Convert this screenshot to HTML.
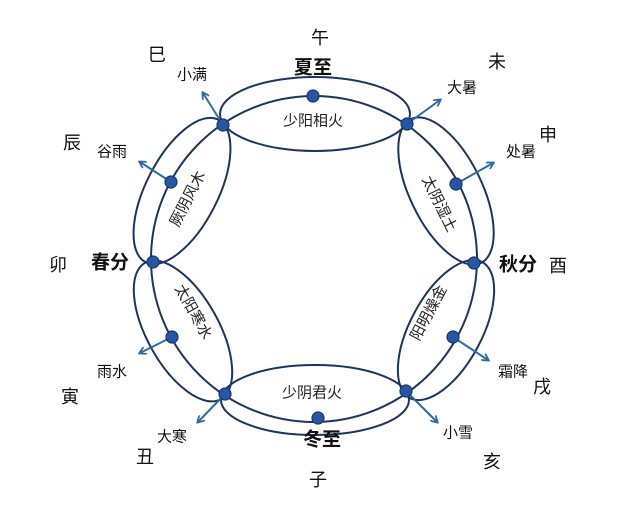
<!DOCTYPE html>
<html><head><meta charset="utf-8"><style>
html,body{margin:0;padding:0;background:#fff;}
svg{display:block;}
text{font-family:"Liberation Sans","Noto Sans CJK SC",sans-serif;fill:#111;text-anchor:middle;dominant-baseline:central;}
.b{font-size:18px;}
.t{font-size:15px;}
.k{font-size:19px;font-weight:bold;}
.e{font-size:15px;fill:#222;}
</style></head><body>
<svg width="640" height="522" viewBox="0 0 640 522" xmlns="http://www.w3.org/2000/svg">
<defs>
<marker id="ar" markerWidth="8" markerHeight="8" refX="6" refY="4" orient="auto" markerUnits="userSpaceOnUse">
<path d="M0,0 L7,4 L0,8" fill="none" stroke="#2d6aa8" stroke-width="1.8"/>
</marker>
</defs>
<g fill="none" stroke="#1c355f" stroke-width="2">
<circle cx="314" cy="259" r="163"/>
<ellipse cx="315" cy="114" rx="95" ry="37"/>
<ellipse cx="315" cy="400" rx="94" ry="35"/>
<ellipse cx="0" cy="0" rx="80" ry="36" transform="translate(182,191) rotate(-63)"/>
<ellipse cx="0" cy="0" rx="80" ry="36" transform="translate(446,191) rotate(64)"/>
<ellipse cx="0" cy="0" rx="78" ry="36" transform="translate(183,331) rotate(61)"/>
<ellipse cx="0" cy="0" rx="77" ry="36" transform="translate(446,330) rotate(-62)"/>
</g>
<g stroke="#2d6aa8" stroke-width="2" marker-end="url(#ar)">
<line x1="223" y1="125" x2="203" y2="93"/>
<line x1="407" y1="124" x2="440" y2="100"/>
<line x1="171" y1="182" x2="140" y2="162"/>
<line x1="456" y1="184" x2="493" y2="163"/>
<line x1="172" y1="337" x2="140" y2="353"/>
<line x1="453" y1="337" x2="488" y2="360"/>
<line x1="225" y1="394" x2="198" y2="422"/>
<line x1="406" y1="391" x2="437" y2="422"/>
</g>
<g fill="#2458a6" stroke="#1c355f" stroke-width="1.2">
<circle cx="223" cy="125" r="6"/><circle cx="407" cy="124" r="6"/>
<circle cx="153" cy="262" r="6"/><circle cx="474" cy="263" r="6"/>
<circle cx="225" cy="394" r="6"/><circle cx="406" cy="391" r="6"/>
<circle cx="313" cy="96" r="6"/><circle cx="318" cy="418" r="6"/>
<circle cx="171" cy="182" r="6"/><circle cx="456" cy="184" r="6"/>
<circle cx="172" cy="337" r="6"/><circle cx="453" cy="337" r="6"/>
</g>
<text class="b" x="320" y="38">午</text>
<text class="b" x="157" y="55">巳</text>
<text class="b" x="497" y="62">未</text>
<text class="b" x="72" y="143">辰</text>
<text class="b" x="548" y="135">申</text>
<text class="b" x="58" y="265">卯</text>
<text class="b" x="558" y="266">酉</text>
<text class="b" x="70" y="397">寅</text>
<text class="b" x="542" y="387">戌</text>
<text class="b" x="145" y="457">丑</text>
<text class="b" x="492" y="462">亥</text>
<text class="b" x="318" y="480">子</text>
<text class="k" x="313" y="68">夏至</text>
<text class="k" x="110" y="263">春分</text>
<text class="k" x="518" y="265">秋分</text>
<text class="k" x="322" y="440">冬至</text>
<text class="t" x="192" y="75">小满</text>
<text class="t" x="462" y="88">大暑</text>
<text class="t" x="112" y="152">谷雨</text>
<text class="t" x="521" y="152">处暑</text>
<text class="t" x="112" y="372">雨水</text>
<text class="t" x="513" y="372">霜降</text>
<text class="t" x="172" y="437">大寒</text>
<text class="t" x="458" y="433">小雪</text>
<text class="e" x="313" y="121">少阳相火</text>
<text class="e" x="312" y="393">少阴君火</text>
<text class="e" transform="translate(188,199) rotate(-63)">厥阴风木</text>
<text class="e" transform="translate(439,204) rotate(64)">太阴湿土</text>
<text class="e" transform="translate(193,312) rotate(61)">太阳寒水</text>
<text class="e" transform="translate(429,313) rotate(-62)">阳明燥金</text>
</svg>
</body></html>
